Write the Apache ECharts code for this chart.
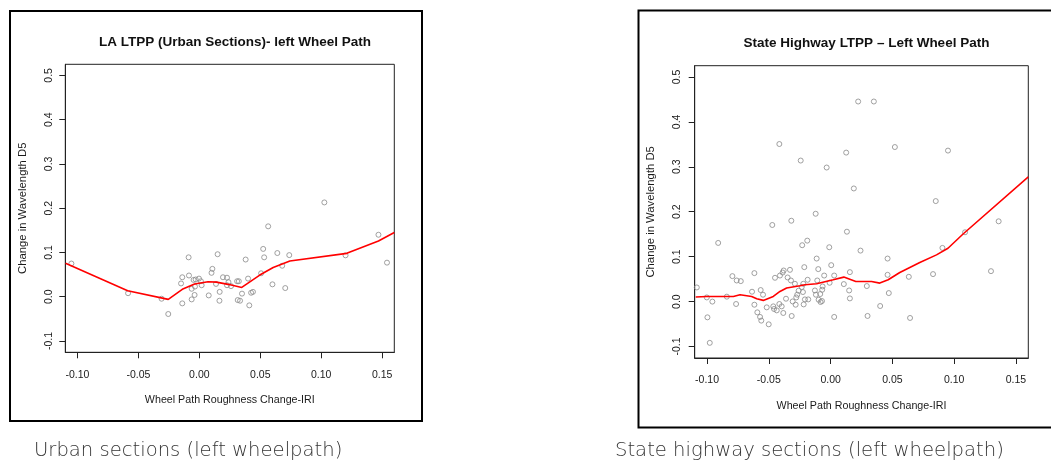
<!DOCTYPE html>
<html>
<head>
<meta charset="utf-8">
<script src="https://cdn.jsdelivr.net/npm/echarts@6/dist/echarts.min.js"></script>
<style>
  html, body { margin: 0; padding: 0; background: #fff; }
  #chart { width: 1051px; height: 466px; }
</style>
</head>
<body>
<div id="chart"></div>
<script>
// Axis ticks shared by both panels
const xTicks = [-0.10, -0.05, 0.00, 0.05, 0.10, 0.15];
const yTicks = [-0.1, 0.0, 0.1, 0.2, 0.3, 0.4, 0.5];

// Urban sections: roughness change (IRI) vs. change in wavelength D5
const urbanX = [-0.105, -0.0585, -0.031, -0.0255, -0.015, -0.014, -0.014, -0.0088, -0.0085, -0.0063,
  -0.0063, -0.0047, -0.0039, -0.003, -0.0036, -0.0003, 0.0019, 0.0013, 0.0077, 0.010,
  0.0107, 0.0137, 0.015, 0.0167, 0.0165, 0.0194, 0.0227, 0.0239, 0.0227, 0.026,
  0.031, 0.0324, 0.0315, 0.0334, 0.035, 0.038, 0.040, 0.041, 0.0425, 0.044,
  0.0507, 0.0524, 0.0532, 0.0565, 0.060, 0.064, 0.068, 0.0705, 0.0738, 0.1026,
  0.120, 0.147, 0.154];
const urbanY = [0.075, 0.008, -0.0045, -0.039, 0.030, 0.044, -0.015, 0.089, 0.048, 0.018,
  -0.006, 0.038, 0.004, 0.039, 0.023, 0.041, 0.026, 0.035, 0.003, 0.054,
  0.063, 0.029, 0.096, 0.011, -0.009, 0.044, 0.043, 0.033, 0.026, 0.024,
  0.035, 0.035, -0.0075, -0.009, 0.007, 0.084, 0.041, -0.0195, 0.009, 0.011,
  0.053, 0.108, 0.089, 0.159, 0.028, 0.0987, 0.070, 0.0196, 0.094, 0.213,
  0.0935, 0.140, 0.077];

// Urban sections: smoothed trend
const urbanFitX = [-0.1098, -0.0588, -0.0255, -0.014, -0.0039, 0.0071, 0.014, 0.0236, 0.0348, 0.0496,
  0.0606, 0.0743, 0.121, 0.147, 0.160];
const urbanFitY = [0.0754, 0.0136, -0.006, 0.0167, 0.0287, 0.034, 0.033, 0.028, 0.021, 0.049,
  0.066, 0.0806, 0.098, 0.126, 0.145];

// State highway sections
const highwayX = [-0.1083, -0.1002, -0.0997, -0.0978, -0.0957, -0.091, -0.084, -0.0795, -0.0765, -0.076,
  -0.0727, -0.0636, -0.0617, -0.0617, -0.0593, -0.0566, -0.0571, -0.0547, -0.0561, -0.0501,
  -0.0517, -0.0472, -0.0464, -0.0458, -0.045, -0.0436, -0.0415, -0.0415, -0.041, -0.0396,
  -0.0388, -0.038, -0.0383, -0.0361, -0.0348, -0.0329, -0.0321, -0.0318, -0.0315, -0.0307,
  -0.0289, -0.0283, -0.0278, -0.027, -0.0259, -0.0242, -0.0234, -0.023, -0.0224, -0.0221,
  -0.0218, -0.0213, -0.0208, -0.0189, -0.0186, -0.0181, -0.0127, -0.0121, -0.0119, -0.0113,
  -0.0108, -0.010, -0.0097, -0.0084, -0.0081, -0.007, -0.0068, -0.0065, -0.0052, -0.0032,
  -0.0011, -0.0008, 0.0005, 0.0029, 0.0029, 0.0107, 0.0126, 0.0132, 0.015, 0.0156,
  0.0156, 0.0188, 0.0223, 0.0242, 0.0293, 0.0299, 0.035, 0.0401, 0.0461, 0.0461,
  0.0471, 0.052, 0.0633, 0.0643, 0.0829, 0.0851, 0.0905, 0.095, 0.1088, 0.1298,
  0.136];
const highwayY = [0.0315, 0.0093, -0.035, -0.0918, 0.0, 0.1306, 0.011, 0.0567, -0.0053, 0.047,
  0.0456, 0.022, 0.0634, -0.0069, -0.0239, 0.0257, -0.0341, 0.0153, -0.0423, -0.0505,
  -0.0128, 0.1705, -0.0106, -0.0164, 0.053, -0.0195, 0.3507, -0.0053, 0.058, -0.0106,
  0.0647, 0.0692, -0.0253, 0.0064, 0.0537, 0.0707, 0.047, 0.180, -0.032, 0.0004,
  0.0397, -0.0069, 0.0093, 0.0153, 0.0242, 0.3139, 0.0324, 0.1255, 0.0213, 0.0397,
  -0.0062, 0.0767, 0.0049, 0.1357, 0.0486, 0.0049, 0.0248, 0.1955, 0.0153, 0.0958,
  0.047, 0.0723, 0.0042, 0.0168, -0.0009, 0.0013, 0.0264, 0.0337, 0.058, 0.2984,
  0.121, 0.0419, 0.0811, 0.058, -0.0341, 0.039, 0.3316, 0.1556, 0.0248, 0.0656,
  0.0071, 0.2518, 0.4453, 0.1135, 0.0346, -0.0319, 0.4453, -0.0098, 0.0958, 0.0596,
  0.019, 0.344, 0.0552, -0.0364, 0.0612, 0.2237, 0.1195, 0.3361, 0.1543, 0.0678,
  0.1787];

// State highway sections: smoothed trend
const highwayFitX = [-0.1092, -0.1002, -0.0895, -0.0787, -0.0733, -0.0639, -0.0598, -0.0545, -0.0464, -0.041,
  -0.0356, -0.0248, -0.0208, -0.0113, 0.0021, 0.0107, 0.0204, 0.0331, 0.0398, 0.0466,
  0.056, 0.0722, 0.0857, 0.095, 0.1072, 0.160];
const highwayFitY = [0.0102, 0.0115, 0.0115, 0.0115, 0.0153, 0.0115, 0.0064, 0.0027, 0.0115, 0.0226,
  0.0302, 0.0352, 0.0375, 0.0397, 0.0486, 0.0545, 0.0448, 0.0448, 0.0412, 0.0486,
  0.0647, 0.0869, 0.104, 0.1188, 0.1505, 0.2775];

const titles = ['LA LTPP (Urban Sections)- left Wheel Path', 'State Highway LTPP \u2013 Left Wheel Path'];
const captions = ['Urban sections (left wheelpath)', 'State highway sections (left wheelpath)'];
const xName = 'Wheel Path Roughness Change-IRI';
const yName = 'Change in Wavelength D5';

const zip = (xs, ys) => xs.map((x, i) => [x, ys[i]]);

const FONT = '"Liberation Sans", Arial, sans-serif';
const TEXT = '#1a1a1a';

function xAxisFor(gridIndex, nameGap) {
  return {
    type: 'value', gridIndex, min: -0.11, max: 0.16,
    name: xName, nameLocation: 'middle', nameGap,
    nameTextStyle: { fontFamily: FONT, fontSize: 10.7, color: TEXT },
    axisLine: { show: true, onZero: false, lineStyle: { color: '#222', width: 1 } },
    axisTick: { show: true, inside: false, length: 6, customValues: xTicks, lineStyle: { color: '#222', width: 1 } },
    axisLabel: { show: true, customValues: xTicks, margin: 17, fontFamily: FONT, fontSize: 10.5, color: TEXT,
      formatter: v => v.toFixed(2) },
    splitLine: { show: false }
  };
}
function yAxisFor(gridIndex, nameGap, margin) {
  return {
    type: 'value', gridIndex, min: -0.1255, max: 0.525,
    name: yName, nameLocation: 'middle', nameGap, nameRotate: 90,
    nameTextStyle: { fontFamily: FONT, fontSize: 11.3, color: TEXT },
    axisLine: { show: true, onZero: false, lineStyle: { color: '#222', width: 1 } },
    axisTick: { show: true, inside: false, length: 6, customValues: yTicks, lineStyle: { color: '#222', width: 1 } },
    axisLabel: { show: true, customValues: yTicks, rotate: 90, margin, fontFamily: FONT, fontSize: 10.5, color: TEXT,
      formatter: v => v.toFixed(1) },
    splitLine: { show: false }
  };
}

const pointStyle = { color: 'rgba(0,0,0,0)', borderColor: '#8a8a8a', borderWidth: 1 };
const fitStyle = { color: '#ff0000', width: 1.6 };
const captionStyle = { fontFamily: '"DejaVu Sans", "Open Sans", sans-serif', fontWeight: 200, fontSize: 19.6, fill: '#333' };

const option = {
  backgroundColor: '#fff',
  animation: false,
  title: [
    { text: titles[0], left: 230, top: 30, textAlign: 'center',
      textStyle: { fontFamily: FONT, fontSize: 13.5, fontWeight: 'bold', color: '#111' } },
    { text: titles[1], left: 861.5, top: 31, textAlign: 'center',
      textStyle: { fontFamily: FONT, fontSize: 13.5, fontWeight: 'bold', color: '#111' } }
  ],
  grid: [
    { left: 65.3, top: 64.3, width: 329, height: 288, show: true, borderColor: '#222', borderWidth: 1,
      backgroundColor: 'transparent', outerBoundsMode: 'none' },
    { left: 694.7, top: 65.7, width: 333.6, height: 292.3, show: true, borderColor: '#222', borderWidth: 1,
      backgroundColor: 'transparent', outerBoundsMode: 'none' }
  ],
  xAxis: [xAxisFor(0, 42), xAxisFor(1, 43)],
  yAxis: [yAxisFor(0, 37, 11), yAxisFor(1, 38, 12)],
  series: [
    { type: 'scatter', xAxisIndex: 0, yAxisIndex: 0, symbol: 'circle', symbolSize: 5,
      itemStyle: pointStyle, data: zip(urbanX, urbanY), silent: true },
    { type: 'line', xAxisIndex: 0, yAxisIndex: 0, showSymbol: false, smooth: false,
      lineStyle: fitStyle, data: zip(urbanFitX, urbanFitY), silent: true },
    { type: 'scatter', xAxisIndex: 1, yAxisIndex: 1, symbol: 'circle', symbolSize: 5,
      itemStyle: pointStyle, data: zip(highwayX, highwayY), silent: true },
    { type: 'line', xAxisIndex: 1, yAxisIndex: 1, showSymbol: false, smooth: false,
      lineStyle: fitStyle, data: zip(highwayFitX, highwayFitY), silent: true }
  ],
  graphic: [
    // panel frames
    { type: 'rect', shape: { x: 10, y: 11, width: 412, height: 410 },
      style: { fill: 'none', stroke: '#000', lineWidth: 2 }, silent: true },
    { type: 'rect', shape: { x: 638.5, y: 10.5, width: 420, height: 417 },
      style: { fill: 'none', stroke: '#000', lineWidth: 2 }, silent: true },
    // captions under the panels
    { type: 'text', left: 34, top: 441, silent: true, style: Object.assign({ text: captions[0] }, captionStyle) },
    { type: 'text', left: 615, top: 441, silent: true, style: Object.assign({ text: captions[1] }, captionStyle) }
  ]
};

const chart = echarts.init(document.getElementById('chart'), null, { renderer: 'canvas' });
chart.setOption(option);
</script>
</body>
</html>
